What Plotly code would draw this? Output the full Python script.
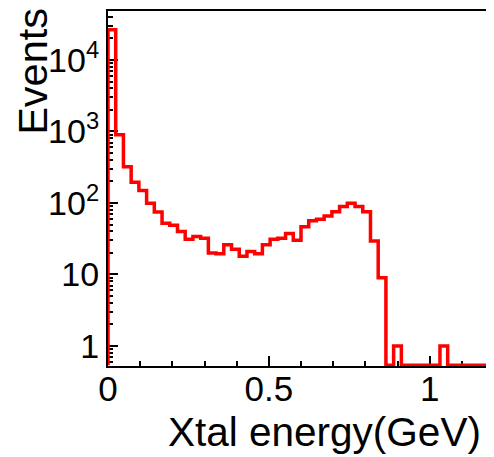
import plotly.graph_objects as go

# Histogram: 50 bins of width 0.024 GeV from 0 to 1.2
bin_lo = 0.0
bin_width = 0.024
counts = [26500, 900, 320, 195, 150, 99, 75, 52, 49, 40,
          31, 34, 32, 20, 19.5, 26, 22.5, 18, 21, 19.5,
          26, 31, 32, 37.5, 30, 46.5, 56.5, 59, 66, 75.5,
          89, 99, 89, 75.5, 29.5, 9, 0, 1, 0, 0,
          0, 0, 0, 1, 0, 0, 0, 0, 0, 0]

x_ticks = [0, 0.5, 1]
x_tick_text = ["0", "0.5", "1"]
x_minor = [0.1, 0.2, 0.3, 0.4, 0.6, 0.7, 0.8, 0.9, 1.1]
y_ticks = [1, 10, 100, 1000, 10000]
y_tick_text = ["1", "10", "10<sup>2</sup>", "10<sup>3</sup>", "10<sup>4</sup>"]

ylog_min, ylog_max = -0.28, 4.685
floor = 10 ** (ylog_min + 0.012)

edges = [bin_lo + bin_width * i for i in range(len(counts) + 1)]
shown = [c if c > 0 else floor for c in counts]
xs = [edges[0]] + edges[:-1] + [edges[-1]]
ys = [floor] + shown + [shown[-1]]

y_minor = []
for d in range(-1, 5):
    for k in range(2, 10):
        v = k * 10 ** d
        if 10 ** ylog_min <= v <= 10 ** ylog_max:
            y_minor.append(v)

fig = go.Figure()
fig.add_trace(go.Scatter(x=xs, y=ys, mode="lines", line_shape="hv",
                         line=dict(color="#ff0000", width=3.5),
                         hoverinfo="skip", showlegend=False))

font = "Liberation Sans, Arial, Helvetica, sans-serif"
# the page body has an 8px margin, so the figure is offset by 8px
fig.update_layout(
    width=494, height=457, autosize=False,
    margin=dict(l=100, r=8, t=3, b=99),
    paper_bgcolor="white", plot_bgcolor="white",
    font=dict(family=font, color="black", size=35),
    xaxis=dict(range=[0, 1.2], showgrid=False, zeroline=False, automargin=False,
               showline=True, linecolor="black", linewidth=2, mirror=True,
               ticks="inside", ticklen=10, tickwidth=2, tickcolor="black",
               tickvals=x_ticks, ticktext=x_tick_text,
               tickfont=dict(size=35, family=font),
               ticklabelstandoff=-9,
               minor=dict(tickvals=x_minor, ticks="inside", ticklen=5,
                          tickwidth=2, tickcolor="black"),
               layer="below traces"),
    yaxis=dict(type="log", range=[ylog_min, ylog_max], showgrid=False,
               zeroline=False, automargin=False,
               showline=True, linecolor="black", linewidth=2,
               ticks="inside", ticklen=10, tickwidth=2, tickcolor="black",
               tickvals=y_ticks, ticktext=y_tick_text,
               tickfont=dict(size=34, family=font),
               minor=dict(tickvals=y_minor, ticks="inside", ticklen=5,
                          tickwidth=2, tickcolor="black"),
               layer="below traces"),
    annotations=[
        dict(text="Xtal energy(GeV)", xref="paper", yref="paper",
             x=0.9715, y=-0.116, xanchor="right", yanchor="top",
             showarrow=False, font=dict(size=40.5, family=font)),
        dict(text="Events", xref="paper", yref="paper",
             x=-0.1947, y=0.831, xanchor="center", yanchor="middle",
             textangle=-90, showarrow=False, font=dict(size=41.5, family=font)),
    ],
)

fig.write_html("out.html")
